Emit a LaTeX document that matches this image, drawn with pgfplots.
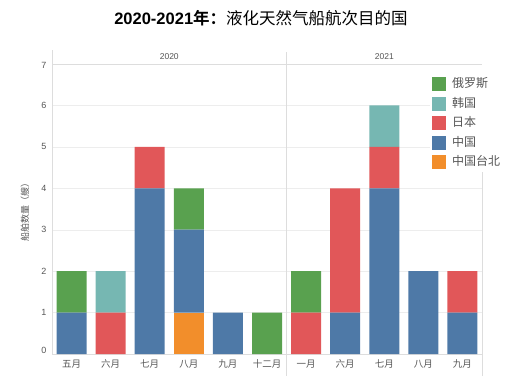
\documentclass[border=0pt]{standalone}
\usepackage{pgfplots}
\pgfplotsset{compat=1.18}
\usepackage{pgfplotstable}
\usepackage{fontspec}
\setmainfont{Liberation Sans}
\newfontfamily\cjk{Noto Sans CJK SC}
\newfontfamily\cjkb{Noto Sans CJK SC Bold}
\definecolor{cCN}{HTML}{4E79A7}
\definecolor{cTW}{HTML}{F28E2B}
\definecolor{cJP}{HTML}{E15759}
\definecolor{cKR}{HTML}{76B7B2}
\definecolor{cRU}{HTML}{59A14F}
\definecolor{txt}{HTML}{555555}
\definecolor{ln}{HTML}{DDDDDD}
\pgfplotstableread{
x TW CN JP KR RU
0 0 1 0 0 1
1 0 0 1 1 0
2 0 4 1 0 0
3 1 2 0 0 1
4 0 1 0 0 0
5 0 0 0 0 1
6 0 0 1 0 1
7 0 1 3 0 0
8 0 4 1 1 0
9 0 2 0 0 0
10 0 1 1 0 0
}\data
\begin{document}
\begin{tikzpicture}[x=1pt,y=1pt]
\useasboundingbox (0,0) rectangle (522,376);
\node[font=\fontsize{16.5}{16.5}\selectfont] at (261,358) {\textbf{2020-2021}{\cjkb 年：}{\cjk 液化天然气船航次目的国}};
\node[rotate=90, font=\cjk\fontsize{9}{9}\selectfont, text=txt] at (25,166) {船舶数量（艘）};
\begin{axis}[
  at={(52pt,22pt)}, anchor=south west,
  scale only axis, width=430pt, height=290pt,
  xmin=-0.5, xmax=10.5, ymin=0, ymax=7,
  ybar stacked, bar width=30pt,
  clip=false,
  axis x line*=bottom, axis y line*=left,
  axis line style={ln, -},
  major tick length=0pt,
  ymajorgrids, grid style={black!7},
  ytick={0,...,7},
  yticklabels={\raisebox{7pt}{0},1,2,3,4,5,6,\raisebox{-8pt}{7}},
  yticklabel style={font=\fontsize{9}{9}\selectfont, text=txt, xshift=-2pt},
  xtick={0,...,10},
  xticklabels={五月,六月,七月,八月,九月,十二月,一月,六月,七月,八月,九月},
  xticklabel style={font=\cjk\fontsize{9.5}{9.5}\selectfont, text=txt, yshift=-2pt},
  legend style={at={(0.879,0.962)}, anchor=north west, draw=none, fill=white,
    font=\cjk\fontsize{12}{12}\selectfont, text=txt, row sep=5.5pt,
    inner xsep=2pt, inner ysep=2pt,
    nodes={inner sep=1pt, text height=9.5pt, text depth=2.5pt}},
  legend cell align=left,
  reverse legend,
  legend image code/.code={\fill[#1] (0pt,-7pt) rectangle (14pt,7pt); \path (19pt,0pt);},
]
\addplot[fill=cTW, draw=none] table[x=x,y=TW]{\data};
\addplot[fill=cCN, draw=none] table[x=x,y=CN]{\data};
\addplot[fill=cJP, draw=none] table[x=x,y=JP]{\data};
\addplot[fill=cKR, draw=none] table[x=x,y=KR]{\data};
\addplot[fill=cRU, draw=none] table[x=x,y=RU]{\data};
\legend{中国台北,中国,日本,韩国,俄罗斯}
\draw[ln] (axis cs:-0.5,7) -- (axis cs:10.5,7);
\draw[ln] (axis cs:-0.5,7) -- ([yshift=14pt]axis cs:-0.5,7);
\draw[ln] ([yshift=12pt]axis cs:5.5,7) -- ([yshift=-22pt]axis cs:5.5,0);
\draw[ln] ([yshift=-22pt]axis cs:10.5,0) -- (axis cs:10.5,4.4);
\node[font=\fontsize{8.5}{8.5}\selectfont, text=txt] at ([yshift=7pt]axis cs:2.5,7) {2020};
\node[font=\fontsize{8.5}{8.5}\selectfont, text=txt] at ([yshift=7pt]axis cs:8,7) {2021};
\end{axis}
\end{tikzpicture}
\end{document}
